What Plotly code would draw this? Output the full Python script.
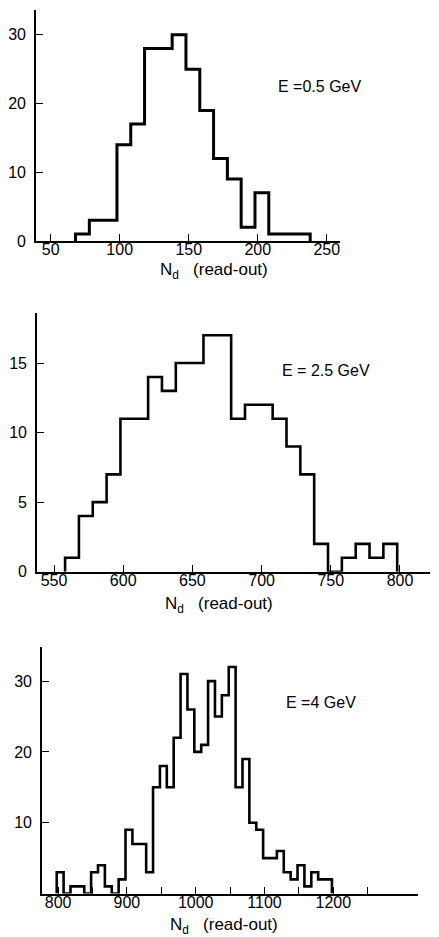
import plotly.graph_objects as go

W, H = 439, 937

# Bin layout (read-out counts, 10 units per bin)
bin_width = 10

# E = 0.5 GeV
start_05 = 68
counts_05 = [1, 3, 3, 14, 17, 28, 28, 30, 25, 19, 12, 9, 2, 7, 1, 1, 1]

# E = 2.5 GeV
start_25 = 558
counts_25 = [1, 4, 5, 7, 11, 11, 14, 13, 15, 15, 17, 17, 11, 12, 12, 11, 9, 7,
             2, 0, 1, 2, 1, 2]

# E = 4 GeV
start_4 = 798
counts_4 = [3, 0, 1, 1, 0, 3, 4, 1, 0, 2,
            9, 7, 7, 3, 15, 18, 15, 22, 31, 26,
            20, 21, 30, 25, 28, 32, 15, 19, 10, 9,
            5, 5, 6, 3, 2, 4, 1, 3, 2, 2]

labels = ["E =0.5 GeV", "E = 2.5 GeV", "E =4 GeV"]

x_ticks_05 = [50, 100, 150, 200, 250]
y_ticks_05 = [0, 10, 20, 30]
x_ticks_25 = [550, 600, 650, 700, 750, 800]
y_ticks_25 = [0, 5, 10, 15]
x_ticks_4 = [800, 850, 900, 950, 1000, 1050, 1100, 1150, 1200, 1250]
x_ticktext_4 = ["800", " ", "900", " ", "1000", " ", "1100", " ", "1200", " "]
y_ticks_4 = [10, 20, 30]


def step_outline(start, width, counts):
    """Closed histogram outline as points for an 'hv' step line."""
    xs, ys = [start], [0]
    for i, c in enumerate(counts):
        xs.append(start + i * width)
        ys.append(c)
    end = start + len(counts) * width
    xs += [end, end]
    ys += [counts[-1], 0]
    return xs, ys


def px_to_paper_x(px):
    return px / W


def px_to_paper_y(py):
    return 1 - py / H


FONT = "Liberation Sans, Arial, sans-serif"

# panel frames in pixels: (left, right, top, bottom), with axis ranges
panels = [
    dict(box=(36, 340, 10, 241), xr=[39.35, 259.6], yr=[0, 33.6],
         start=start_05, counts=counts_05, lw=3.0,
         xt=x_ticks_05, xtt=[str(v) for v in x_ticks_05],
         yt=y_ticks_05, label=labels[0], lab_xy=(276, 86), title=(214, 271)),
    dict(box=(37, 430, 313, 571.7), xr=[537.7, 821.7], yr=[0, 18.6],
         start=start_25, counts=counts_25, lw=2.6,
         xt=x_ticks_25, xtt=[str(v) for v in x_ticks_25],
         yt=y_ticks_25, label=labels[1], lab_xy=(280, 370), title=(219, 605)),
    dict(box=(42, 418, 646.7, 893.5), xr=[776.6, 1323.1], yr=[0, 34.86],
         start=start_4, counts=counts_4, lw=2.6,
         xt=x_ticks_4, xtt=x_ticktext_4,
         yt=y_ticks_4, label=labels[2], lab_xy=(284, 702), title=(224, 926)),
]

fig = go.Figure()
annotations = []
layout_axes = {}

for i, p in enumerate(panels, start=1):
    xa = "x" if i == 1 else f"x{i}"
    ya = "y" if i == 1 else f"y{i}"
    xs, ys = step_outline(p["start"], bin_width, p["counts"])
    fig.add_trace(go.Scatter(
        x=xs, y=ys, mode="lines", line=dict(shape="hv", color="black", width=p["lw"]),
        xaxis=xa, yaxis=ya, showlegend=False, hoverinfo="skip"))

    l, r, t, b = p["box"]
    common = dict(showgrid=False, zeroline=False, showline=True, linecolor="black",
                  linewidth=1.6, ticks="inside", tickcolor="black", tickwidth=1.4,
                  ticklen=7, tickfont=dict(family=FONT, size=16, color="black"),
                  automargin=False, fixedrange=True)
    layout_axes["xaxis" if i == 1 else f"xaxis{i}"] = dict(
        common, domain=[px_to_paper_x(l), px_to_paper_x(r)], range=p["xr"],
        anchor=ya, tickmode="array", tickvals=p["xt"], ticktext=p["xtt"],
        ticklabelstandoff=-7)
    layout_axes["yaxis" if i == 1 else f"yaxis{i}"] = dict(
        common, domain=[px_to_paper_y(b), px_to_paper_y(t)], range=p["yr"],
        anchor=xa, tickmode="array", tickvals=p["yt"],
        ticktext=[str(v) for v in p["yt"]], ticklabelstandoff=5)

    lx, ly = p["lab_xy"]
    annotations.append(dict(
        text=p["label"], xref="paper", yref="paper",
        x=px_to_paper_x(lx), y=px_to_paper_y(ly), xanchor="left", yanchor="middle",
        showarrow=False, font=dict(family=FONT, size=16, color="black")))
    tx, ty = p["title"]
    annotations.append(dict(
        text="N<sub>d</sub>   (read-out)", xref="paper", yref="paper",
        x=px_to_paper_x(tx), y=px_to_paper_y(ty),
        xanchor="center", yanchor="middle", showarrow=False,
        font=dict(family=FONT, size=17, color="black")))

fig.update_layout(
    width=W, height=H, margin=dict(l=0, r=0, t=0, b=0),
    paper_bgcolor="white", plot_bgcolor="white",
    annotations=annotations, **layout_axes)

fig.write_html("out.html", config={"displayModeBar": False})
